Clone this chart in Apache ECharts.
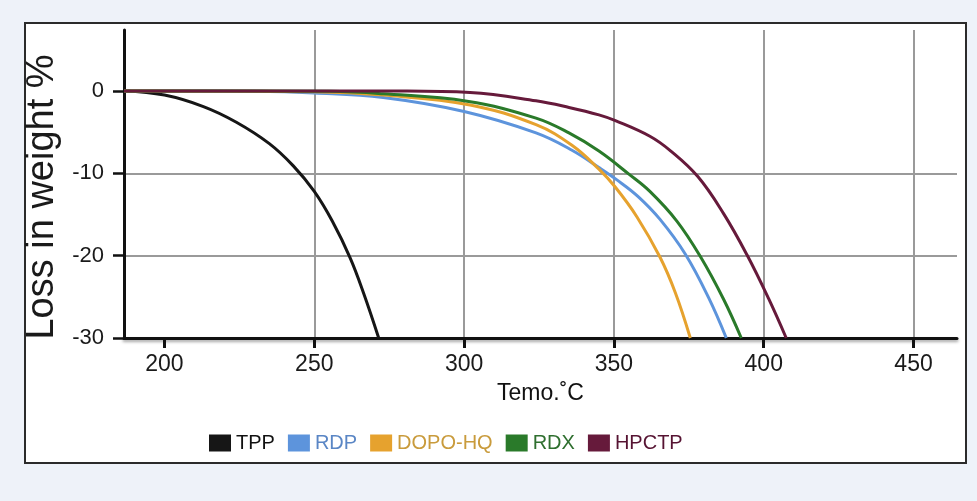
<!DOCTYPE html>
<html>
<head>
<meta charset="utf-8">
<script src="https://cdn.jsdelivr.net/npm/echarts@6/dist/echarts.min.js"></script>
<style>
html,body{margin:0;padding:0;background:#eef2f9;}
#panel{position:absolute;left:24px;top:22px;width:939px;height:438px;background:#fff;border:2px solid #2b2b2b;}
#main{position:absolute;left:0;top:0;width:977px;height:501px;}
</style>
</head>
<body>
<div id="panel"></div>
<div id="main"></div>
<script>
// axis ranges + ticks
var xMin = 186.5, xMax = 464.5;
var yMin = -30, yMax = 7.4;
var xTicks = [200, 250, 300, 350, 400, 450];
var yTicks = [-30, -20, -10, 0];

var names = ['TPP', 'RDP', 'DOPO-HQ', 'RDX', 'HPCTP'];
var lineColors = ['#161616', '#5d94dc', '#e6a22e', '#2a7a2a', '#661a3b'];
var legendTextColors = ['#111111', '#5a86c5', '#c99b3c', '#2f6f2f', '#561332'];

// temperature (°C) / loss in weight (%)
var tppTemp = [186.5, 200, 213, 224, 235, 243, 250, 256, 262, 266.5, 271.5];
var tppLoss = [0, -0.5, -1.9, -3.8, -6.4, -9.1, -12.2, -15.8, -20.3, -24.6, -30];

var rdpTemp = [186.5, 230, 250, 273, 300, 324, 336, 345, 351, 358, 365.4, 373.8, 381.6, 387.5];
var rdpLoss = [0, -0.05, -0.25, -0.8, -2.5, -5.1, -7.2, -9.3, -10.8, -12.8, -15.6, -19.8, -25.1, -30];

var dopoTemp = [186.5, 250, 273, 302, 324, 336, 345, 350.5, 357.7, 365.4, 370.5, 375.5];
var dopoLoss = [0, -0.1, -0.5, -1.7, -4.1, -6.6, -9.5, -11.7, -15.3, -20.2, -24.5, -30];

var rdxTemp = [186.5, 255, 273, 301, 324, 335, 345, 355, 362, 371, 379, 386.6, 392.5];
var rdxLoss = [0, -0.05, -0.35, -1.25, -3.3, -5.1, -7.3, -10.1, -12.2, -15.8, -20.2, -25.3, -30];

var hpTemp = [186.5, 280, 302, 324, 335, 345, 350.5, 362, 369, 378, 386.6, 394.4, 401.6, 407.5];
var hpLoss = [0, -0.02, -0.2, -1.2, -2.0, -2.9, -3.6, -5.5, -7.3, -10.4, -14.9, -19.9, -25.2, -30];

var temps = [tppTemp, rdpTemp, dopoTemp, rdxTemp, hpTemp];
var losses = [tppLoss, rdpLoss, dopoLoss, rdxLoss, hpLoss];

var myChart = echarts.init(document.getElementById('main'));

var series = [], legendData = [];
for (var i = 0; i < names.length; i++) {
  var pts = [];
  for (var j = 0; j < temps[i].length; j++) {
    pts.push([temps[i][j], losses[i][j]]);
  }
  series.push({
    name: names[i],
    type: 'line',
    data: pts,
    smooth: 0.4,
    symbol: 'none',
    color: lineColors[i],
    lineStyle: {width: 3, color: lineColors[i]}
  });
  legendData.push({name: names[i], textStyle: {color: legendTextColors[i]}});
}

option = {
  animation: false,
  grid: {left: 124, right: 20, top: 30, bottom: 163},
  legend: {
    data: legendData,
    left: 204,
    top: 428,
    icon: 'rect',
    itemWidth: 22,
    itemHeight: 17,
    itemGap: 13,
    textStyle: {fontFamily: 'Liberation Sans', fontSize: 20}
  },
  xAxis: {
    type: 'value',
    min: xMin,
    max: xMax,
    splitNumber: 5,
    name: 'Temo.˚C',
    nameLocation: 'middle',
    nameGap: 44,
    nameTextStyle: {fontFamily: 'Liberation Sans', fontSize: 23, color: '#111'},
    axisLine: {onZero: false, lineStyle: {color: '#111', width: 3, shadowColor: 'rgba(0,0,0,0.35)', shadowBlur: 3, shadowOffsetY: 2}},
    axisTick: {customValues: xTicks, length: 10, lineStyle: {color: '#111', width: 3}},
    axisLabel: {customValues: xTicks, margin: 15, fontSize: 23, color: '#1a1a1a', fontFamily: 'Liberation Sans'},
    splitLine: {show: true, showMinLine: false, showMaxLine: true, lineStyle: {color: '#9a9a9a', width: 2}}
  },
  yAxis: {
    type: 'value',
    min: yMin,
    max: yMax,
    splitNumber: 5,
    name: 'Loss in weight %',
    nameLocation: 'middle',
    nameGap: 60,
    nameTextStyle: {fontFamily: 'Liberation Sans', fontSize: 38, color: '#1a1a1a', padding: [0, 26, 0, 0]},
    axisLine: {onZero: false, lineStyle: {color: '#111', width: 3}},
    axisTick: {customValues: yTicks, length: 11, lineStyle: {color: '#111', width: 2.5}},
    axisLabel: {customValues: yTicks, margin: 20, fontSize: 22, color: '#1a1a1a', fontFamily: 'Liberation Sans'},
    splitLine: {show: true, showMinLine: false, showMaxLine: false, lineStyle: {color: '#9a9a9a', width: 2}}
  },
  series: series
};

myChart.setOption(option);
</script>
</body>
</html>
